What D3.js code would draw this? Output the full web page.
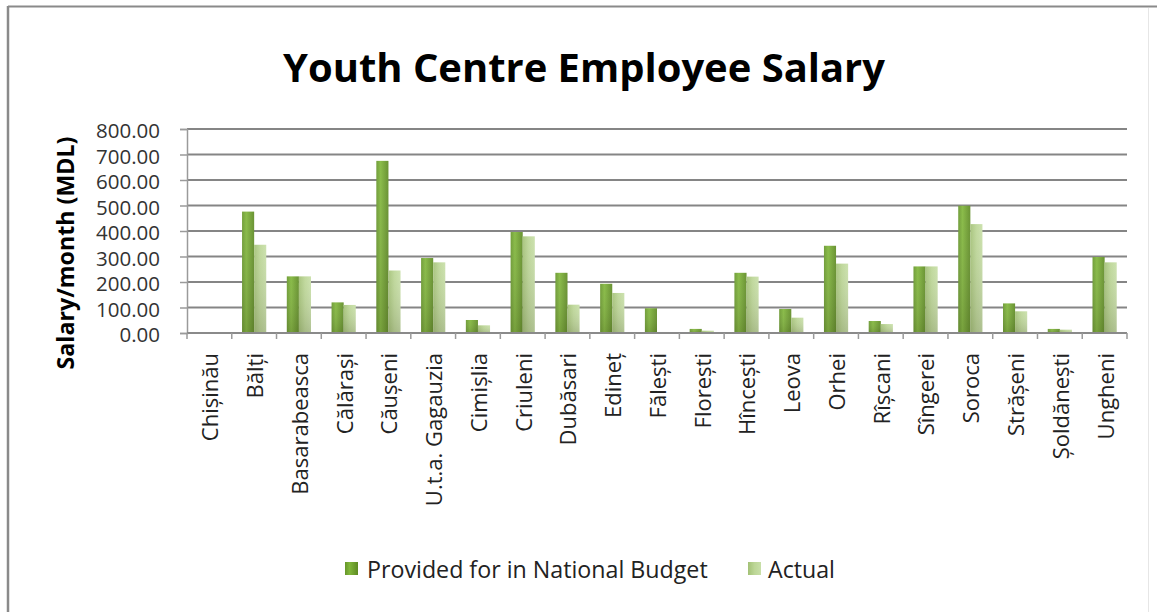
<!DOCTYPE html>
<html><head><meta charset="utf-8">
<script src="https://cdn.jsdelivr.net/npm/d3@7"></script>
<style>html,body{margin:0;padding:0;background:#fff;}</style>
</head><body>
<svg id="chart" width="1157" height="612"></svg>
<script>
const categories = ["Chișinău","Bălți","Basarabeasca","Călărași","Căușeni","U.t.a. Gagauzia","Cimișlia","Criuleni","Dubăsari","Edineț","Fălești","Florești","Hîncești","Leova","Orhei","Rîșcani","Sîngerei","Soroca","Strășeni","Șoldănești","Ungheni"];
const budget = [0,476,222,120,675,294,51,396,236,193,97,16,236,94,342,47,261,499,116,16,298];
const actual = [0,346,222,110,245,277,30,379,111,157,4,9,221,60,272,35,261,427,85,13,277];
const seriesNames = ["Provided for in National Budget","Actual"];
const yTicks = [0,100,200,300,400,500,600,700,800];

const svg = d3.select("#chart");
const font = "'Open Sans', 'DejaVu Sans', sans-serif";
const defs = svg.append("defs");

function hgrad(id, stops){
  const g = defs.append("linearGradient").attr("id", id).attr("x1",0).attr("y1",0).attr("x2",1).attr("y2",0);
  stops.forEach(s => g.append("stop").attr("offset", s[0]).attr("stop-color", s[1]));
}
hgrad("gDark", [[0,"#66962a"],[0.35,"#80b63a"],[1,"#5d8a22"]]);
hgrad("gLight", [[0,"#a3c176"],[0.5,"#bcd696"],[1,"#c8dfa8"]]);
const vg = defs.append("linearGradient").attr("id","gShade").attr("x1",0).attr("y1",0).attr("x2",0).attr("y2",1);
vg.append("stop").attr("offset",0).attr("stop-color","#ffffff").attr("stop-opacity",0.08);
vg.append("stop").attr("offset",1).attr("stop-color","#555544").attr("stop-opacity",0.22);

// chart border
svg.append("line").attr("x1",8).attr("x2",1157).attr("y1",6.5).attr("y2",6.5).attr("stroke","#8a8a8a").attr("stroke-width",2);
svg.append("line").attr("x1",8).attr("x2",8).attr("y1",6).attr("y2",612).attr("stroke","#8a8a8a").attr("stroke-width",2.5);
svg.append("line").attr("x1",1148.5).attr("x2",1148.5).attr("y1",8).attr("y2",612).attr("stroke","#e6e6e6").attr("stroke-width",1);

const x0 = 187, x1r = 1127, yBase = 333, yTop = 129;
const x = d3.scaleBand().domain(categories).range([x0, x1r]).padding(0);
const y = d3.scaleLinear().domain([0,800]).range([yBase, yTop]);
const groupW = x.bandwidth()*0.54;
const xs = d3.scaleBand().domain(seriesNames).range([0, groupW]).padding(0);

// gridlines
svg.append("g").selectAll("line").data(yTicks.filter(d=>d>0)).join("line")
  .attr("x1", x0).attr("x2", x1r).attr("y1", d=>y(d)).attr("y2", d=>y(d))
  .attr("stroke","#858585").attr("stroke-width",2);

// y axis
const yAxis = svg.append("g").attr("transform",`translate(${x0},0)`)
  .call(d3.axisLeft(y).tickValues(yTicks).tickSize(7).tickPadding(20).tickFormat(d3.format(".2f")));
yAxis.select(".domain").attr("stroke","#9a9a9a").attr("stroke-width",1.5);
yAxis.selectAll(".tick line").attr("stroke","#9a9a9a").attr("stroke-width",1.5);
yAxis.selectAll("text").attr("font-family",font).attr("font-size",20.5).attr("fill","#333").attr("dy","0.42em");

// bars
const data = categories.map((c,i)=>({c, vals:[{s:seriesNames[0],v:budget[i]},{s:seriesNames[1],v:actual[i]}]}));
const grp = svg.append("g").selectAll("g").data(data).join("g")
  .attr("transform", d=>`translate(${x(d.c)+(x.bandwidth()-groupW)/2},0)`);
grp.selectAll("rect.bar").data(d=>d.vals).join("rect").attr("class","bar")
  .attr("x", d=>xs(d.s)).attr("width", xs.bandwidth())
  .attr("y", d=>y(d.v)).attr("height", d=>yBase - y(d.v))
  .attr("fill", (d,i)=> i===0 ? "url(#gDark)" : "url(#gLight)");
grp.selectAll("rect.shade").data(d=>d.vals).join("rect").attr("class","shade")
  .attr("x", d=>xs(d.s)).attr("width", xs.bandwidth())
  .attr("y", d=>y(d.v)).attr("height", d=>yBase - y(d.v))
  .attr("fill", "url(#gShade)");

// x axis
svg.append("line").attr("x1",x0).attr("x2",x1r).attr("y1",yBase).attr("y2",yBase).attr("stroke","#8a8a8a").attr("stroke-width",2);
const bounds = categories.map(c=>x(c)).concat([x1r]);
svg.append("g").selectAll("line").data(bounds).join("line")
  .attr("x1",d=>d).attr("x2",d=>d).attr("y1",yBase).attr("y2",yBase+6)
  .attr("stroke","#9a9a9a").attr("stroke-width",1.5);
svg.append("g").selectAll("text").data(categories).join("text")
  .attr("transform", d=>`translate(${x(d)+x.bandwidth()/2+1},353) rotate(-90)`)
  .attr("text-anchor","end").attr("dy","0.36em")
  .attr("font-family",font).attr("font-size",22).attr("fill","#222")
  .text(d=>d);

function fitText(sel, target){
  const node = sel.node();
  const fs = parseFloat(sel.attr("font-size"));
  const w = node.getComputedTextLength();
  sel.attr("font-size", fs*target/w);
}

// title
const title = svg.append("text").attr("x",584).attr("y",82).attr("text-anchor","middle")
  .attr("font-family",font).attr("font-weight","bold").attr("font-size",38).attr("fill","#000")
  .text("Youth Centre Employee Salary");
fitText(title, 602);

// y axis title
const yt = svg.append("text").attr("transform","translate(66,253) rotate(-90)").attr("text-anchor","middle")
  .attr("dy","0.35em").attr("font-family",font).attr("font-weight","bold").attr("font-size",20).attr("fill","#000")
  .text("Salary/month (MDL)");
fitText(yt, 233);

// legend
const legendItems = [
  {name: seriesNames[0], sx:345, tx:367, tw:341, fill:"url(#gDark)"},
  {name: seriesNames[1], sx:748, tx:768, tw:67, fill:"url(#gLight)"}
];
const lg = svg.append("g");
legendItems.forEach(it=>{
  lg.append("rect").attr("x",it.sx).attr("y",562).attr("width",13).attr("height",13).attr("fill",it.fill);
  const t = lg.append("text").attr("x",it.tx).attr("y",570).attr("dy","0.35em")
    .attr("font-family",font).attr("font-size",20).attr("fill","#222").text(it.name);
  fitText(t, it.tw);
});
</script>
</body></html>
